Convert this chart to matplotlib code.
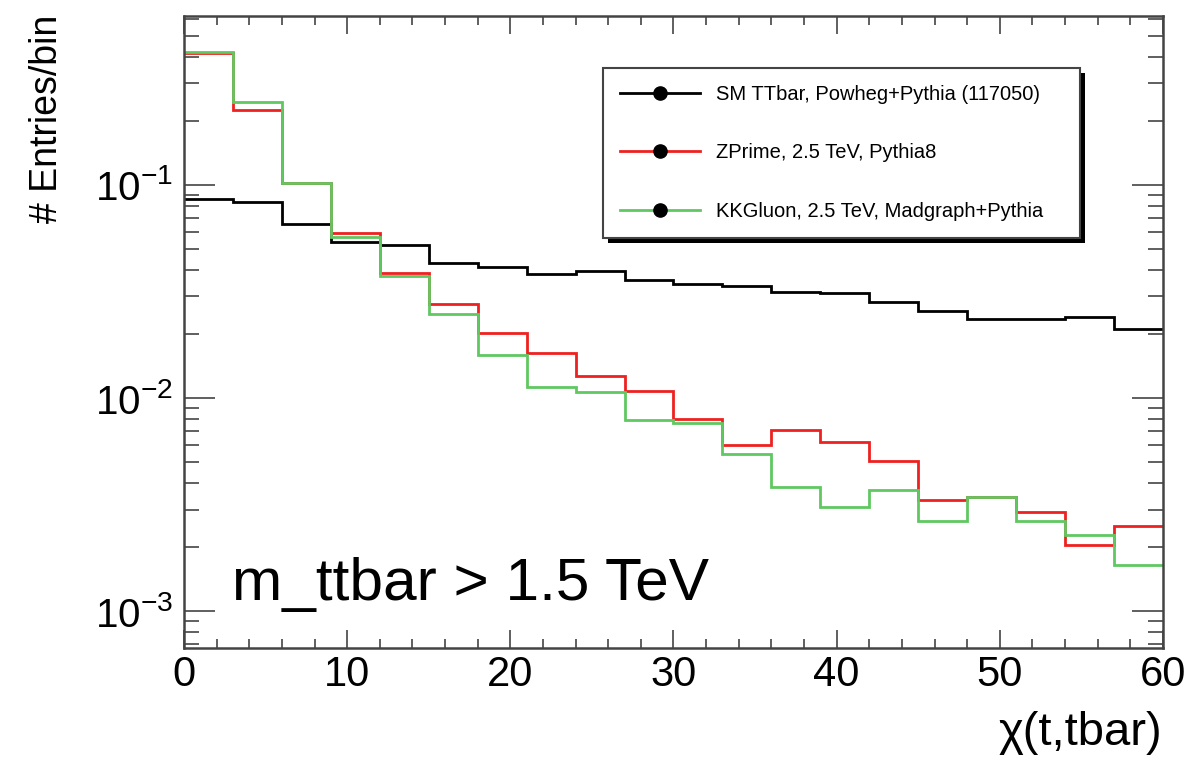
import numpy as np
import matplotlib
matplotlib.use("Agg")
import matplotlib.pyplot as plt
from matplotlib.lines import Line2D
from matplotlib.patches import Rectangle
from matplotlib.transforms import IdentityTransform
from matplotlib.ticker import MultipleLocator, LogLocator, NullFormatter

# ---- data ----
bin_edges = [0, 3, 6, 9, 12, 15, 18, 21, 24, 27, 30, 33, 36, 39, 42, 45, 48, 51, 54, 57, 60]
sm_ttbar = [0.0860, 0.0828, 0.0654, 0.0539, 0.0524, 0.0431, 0.0413, 0.0382, 0.0396, 0.0359,
            0.0343, 0.0334, 0.0313, 0.0310, 0.0283, 0.0255, 0.0235, 0.0235, 0.0239, 0.0211]
zprime = [0.4166, 0.2245, 0.1018, 0.0594, 0.0386, 0.0276, 0.0201, 0.0162, 0.01275, 0.01084,
          0.00799, 0.00599, 0.00710, 0.00621, 0.00504, 0.00334, 0.00343, 0.00292, 0.00205, 0.00250]
kkgluon = [0.4200, 0.2447, 0.1018, 0.0567, 0.0372, 0.0249, 0.0160, 0.01124, 0.01064, 0.00791,
           0.00765, 0.00544, 0.00382, 0.00308, 0.00372, 0.00264, 0.00343, 0.00264, 0.00229, 0.00164]
labels = ["SM TTbar, Powheg+Pythia (117050)",
          "ZPrime, 2.5 TeV, Pythia8",
          "KKGluon, 2.5 TeV, Madgraph+Pythia"]
colors = ["#000000", "#ee2020", "#60c860"]

plt.rcParams['font.family'] = ['Liberation Sans', 'DejaVu Sans']
plt.rcParams['mathtext.fontset'] = 'custom'
plt.rcParams['mathtext.rm'] = 'Liberation Sans'
plt.rcParams['mathtext.it'] = 'Liberation Sans:italic'
plt.rcParams['mathtext.bf'] = 'Liberation Sans:bold'

W, H = 1198, 758
fig = plt.figure(figsize=(W / 100, H / 100), dpi=100)
ax = fig.add_axes([184 / W, 1 - 648 / H, (1163 - 184) / W, (648 - 16) / H])

edges = np.array(bin_edges, dtype=float)
for vals, c in zip([sm_ttbar, zprime, kkgluon], colors):
    ax.stairs(vals, edges, baseline=None, color=c, linewidth=2.0)

ax.set_yscale('log')
ax.set_xlim(0, 60)
ax.set_ylim(6.72e-4, 0.62)

ax.xaxis.set_major_locator(MultipleLocator(10))
ax.xaxis.set_minor_locator(MultipleLocator(2))
ax.yaxis.set_major_locator(LogLocator(base=10, numticks=10))
ax.yaxis.set_minor_locator(LogLocator(base=10, subs=np.arange(2, 10), numticks=20))
ax.yaxis.set_minor_formatter(NullFormatter())

tc = '#444444'
ax.tick_params(axis='x', which='major', direction='in', length=13, width=1.2, color=tc,
               top=True, labelsize=30, pad=5)
ax.tick_params(axis='x', which='minor', direction='in', length=6.5, width=1.2, color=tc, top=True)
ax.tick_params(axis='y', which='major', direction='in', length=22, width=1.2, color=tc,
               right=True, labelsize=29, pad=8)
ax.tick_params(axis='y', which='minor', direction='in', length=11, width=1.2, color=tc, right=True)

for s in ax.spines.values():
    s.set_color('#444444')
    s.set_linewidth(1.8)

handles = [Line2D([0], [0], color=c, linewidth=2.0, marker='o', markersize=9.5,
                  markerfacecolor='black', markeredgecolor='black') for c in colors]
leg = ax.legend(handles, labels, loc='upper left',
                bbox_to_anchor=(603 / W, 1 - 240 / H, 477 / W, 172 / H),
                bbox_transform=fig.transFigure, mode='expand', borderaxespad=0,
                fontsize=14.5, frameon=True, fancybox=False, shadow=False, framealpha=1.0,
                handlelength=3.95, handletextpad=0.8, borderpad=0.85, labelspacing=1.95)
leg.get_frame().set_edgecolor('#444444')
leg.get_frame().set_facecolor('white')
leg.get_frame().set_linewidth(1.5)

# solid ROOT-style shadow under the legend box
fig.canvas.draw()
bb = leg.get_window_extent()
off = 5
shadow = Rectangle((bb.x0 + off, bb.y0 - off), bb.width, bb.height,
                   transform=IdentityTransform(), facecolor='black', edgecolor='none',
                   zorder=leg.get_zorder() - 0.1, clip_on=False)
ax.add_patch(shadow)

fig.text(47 / W, 1 - 15 / H, "# Entries/bin", rotation=90, ha='center', va='top', fontsize=27)
fig.text(1162 / W, 1 - 745 / H, "χ(t,tbar)", ha='right', va='baseline', fontsize=34)
fig.text(232 / W, 1 - 600 / H, "m_ttbar > 1.5 TeV", ha='left', va='baseline', fontsize=43.5)

fig.savefig("out.png", dpi=100)
